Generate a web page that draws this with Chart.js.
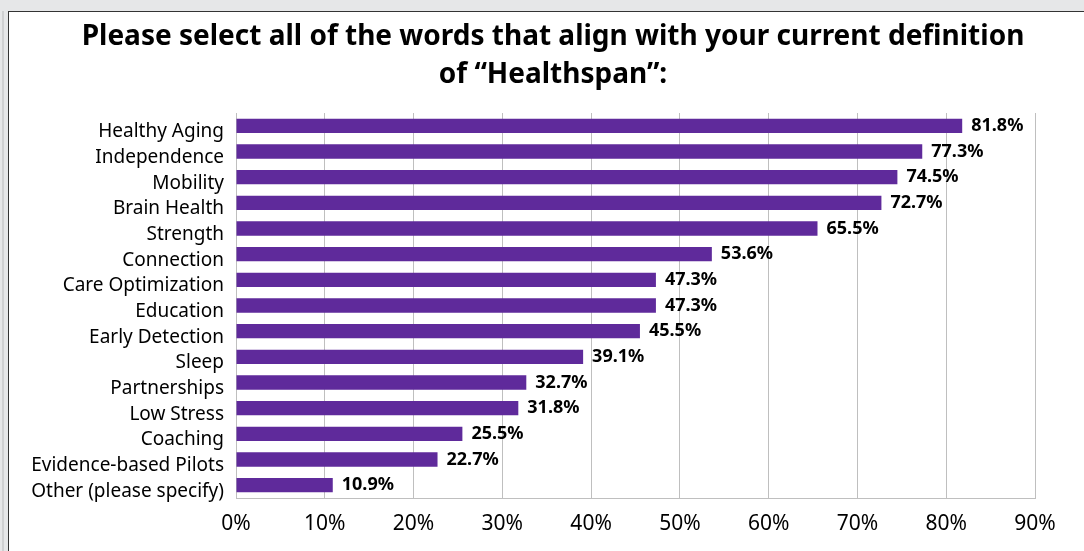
<!DOCTYPE html>
<html lang="en">
    <head>
        <meta charset="UTF-8" />
        <title>Healthspan</title>
        <script src="https://cdn.jsdelivr.net/npm/chart.js@4.4.1/dist/chart.umd.min.js"></script>
        <style>
            html, body { margin: 0; padding: 0; background: #e6e7e8; overflow: hidden; }
            #edge { position: absolute; left: 2px; top: 11px; width: 2px; height: 600px; background: #cfd0d1; }
            #frame { position: absolute; left: 8px; top: 11px; width: 1200px; height: 700px; background: #fff; border: 1px solid #333; }
            #wrapper { position: absolute; left: 0; top: 0; width: 1084px; height: 551px; }
        </style>
    </head>
    <body>
        <div id="edge"></div>
        <div id="frame"></div>
        <div id="wrapper">
            <canvas id="canvas" width="1084" height="551"></canvas>
        </div>
        <script>
            // answers and share of respondents (%)
            let words = ['Healthy Aging', 'Independence', 'Mobility', 'Brain Health', 'Strength',
                'Connection', 'Care Optimization', 'Education', 'Early Detection', 'Sleep',
                'Partnerships', 'Low Stress', 'Coaching', 'Evidence-based Pilots', 'Other (please specify)'];
            let share = [81.8, 77.3, 74.5, 72.7, 65.5, 53.6, 47.3, 47.3, 45.5, 39.1, 32.7, 31.8, 25.5, 22.7, 10.9];
            let xTicks = [0, 10, 20, 30, 40, 50, 60, 70, 80, 90];
            let titleLines = ['Please select all of the words that align with your current definition', 'of \u201cHealthspan\u201d:'];

            let fontName = "'Noto Sans', sans-serif";

            // bold value at the end of each bar
            let valueLabels = {
                id: 'valueLabels',
                afterDatasetsDraw(chart) {
                    let ctx = chart.ctx;
                    let meta = chart.getDatasetMeta(0);
                    ctx.save();
                    ctx.font = 'bold 18px ' + fontName;
                    ctx.fillStyle = '#000';
                    ctx.textAlign = 'left';
                    ctx.textBaseline = 'middle';
                    meta.data.forEach(function(bar, i) {
                        ctx.fillText(share[i].toFixed(1) + '%', bar.x + 9, bar.y);
                    });
                    ctx.restore();
                }
            };

            // two line title, a bit right of the canvas centre like the original
            let titleBlock = {
                id: 'titleBlock',
                afterDraw(chart) {
                    let ctx = chart.ctx;
                    ctx.save();
                    ctx.font = 'bold 28px ' + fontName;
                    ctx.fillStyle = '#000';
                    ctx.textAlign = 'center';
                    ctx.textBaseline = 'middle';
                    titleLines.forEach(function(line, i) {
                        ctx.fillText(line, chart.width / 2 + 11, 37 + i * 38);
                    });
                    ctx.restore();
                }
            };

            let options = {
                type: 'bar',
                data: {
                    labels: words,
                    datasets: [{
                        data: share,
                        backgroundColor: '#5f2a9b',
                        categoryPercentage: 1,
                        barPercentage: 0.56
                    }]
                },
                options: {
                    indexAxis: 'y',
                    responsive: false,
                    animation: false,
                    layout: { padding: { left: 0, right: 49, top: 113, bottom: 0 } },
                    plugins: {
                        legend: { display: false },
                        tooltip: { enabled: false },
                        title: { display: false }
                    },
                    scales: {
                        x: {
                            min: 0,
                            max: 90,
                            afterBuildTicks(scale) { scale.ticks = xTicks.map(v => ({ value: v })); },
                            afterFit(scale) { scale.height = 53; },
                            grid: { color: '#bfbfbf', drawTicks: false },
                            border: { color: '#bfbfbf' },
                            ticks: {
                                color: '#000',
                                padding: 13,
                                font: { family: fontName, size: 21 },
                                callback: v => v + '%'
                            }
                        },
                        y: {
                            afterFit(scale) { scale.width = 236; },
                            grid: { display: false, drawTicks: false },
                            border: { color: '#bfbfbf' },
                            ticks: {
                                color: '#000',
                                padding: 12,
                                labelOffset: 6,
                                autoSkip: false,
                                font: { family: fontName, size: 19 }
                            }
                        }
                    }
                },
                plugins: [valueLabels, titleBlock]
            };

            let chart1 = new Chart(document.getElementById('canvas'), options);
        </script>
    </body>
</html>
